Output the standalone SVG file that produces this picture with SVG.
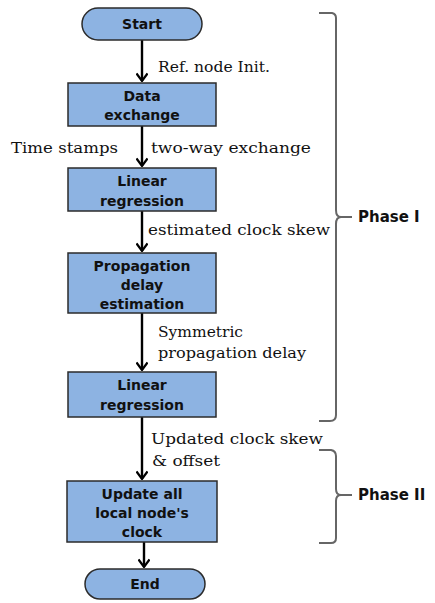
<svg xmlns="http://www.w3.org/2000/svg" width="435" height="603" viewBox="0 0 435 603">
<defs>
<marker id="arrd" markerWidth="12" markerHeight="10" refX="6" refY="9" orient="0" markerUnits="userSpaceOnUse" viewBox="0 0 12 10">
<path d="M0.5,1.5 L6,9 L11.5,1.5" fill="none" stroke="#000" stroke-width="2.2"/>
</marker>
</defs>
<style>
.box{fill:#8db3e2;stroke:#2b2b2b;stroke-width:1.5}
.nt{font-family:"Comic Sans MS","DejaVu Sans",sans-serif;font-weight:bold;font-size:14px;fill:#111;text-anchor:middle}
.el{font-family:"DejaVu Serif","Liberation Serif",serif;font-size:15px;fill:#111}
.ln{fill:none;stroke:#000;stroke-width:2.4}
.br{fill:none;stroke:#666;stroke-width:2}
.ph{font-family:"Comic Sans MS","DejaVu Sans",sans-serif;font-weight:bold;font-size:15px;fill:#111}
</style>
<rect width="435" height="603" fill="#fff"/>
<g id="connectors">
<line class="ln" x1="142" y1="40" x2="142" y2="81" marker-end="url(#arrd)"/>
<line class="ln" x1="142" y1="126" x2="142" y2="166" marker-end="url(#arrd)"/>
<line class="ln" x1="142" y1="211" x2="142" y2="251" marker-end="url(#arrd)"/>
<line class="ln" x1="142" y1="313" x2="142" y2="370" marker-end="url(#arrd)"/>
<line class="ln" x1="142" y1="417" x2="142" y2="479" marker-end="url(#arrd)"/>
<line class="ln" x1="144" y1="542" x2="144" y2="567" marker-end="url(#arrd)"/>
</g>
<g id="labels">
<text class="el" x="158" y="72" textLength="112" lengthAdjust="spacingAndGlyphs">Ref.  node Init.</text>
<text class="el" x="11" y="153" textLength="107" lengthAdjust="spacingAndGlyphs">Time  stamps</text>
<text class="el" x="151" y="153" textLength="160" lengthAdjust="spacingAndGlyphs">two-way  exchange</text>
<text class="el" x="148" y="235" textLength="182" lengthAdjust="spacingAndGlyphs">estimated clock skew</text>
<text class="el" x="158" y="337" textLength="85" lengthAdjust="spacingAndGlyphs">Symmetric</text>
<text class="el" x="158" y="358" textLength="148" lengthAdjust="spacingAndGlyphs">propagation  delay</text>
<text class="el" x="151" y="444" textLength="172" lengthAdjust="spacingAndGlyphs">Updated clock skew</text>
<text class="el" x="152" y="466" textLength="68" lengthAdjust="spacingAndGlyphs">&amp; offset</text>
</g>
<g id="start">
<rect class="box" x="82" y="8" width="120" height="32" rx="16"/>
<text class="nt" x="142" y="29">Start</text>
</g>
<g id="data-exchange">
<rect class="box" x="68" y="83" width="148" height="43"/>
<text class="nt" x="142" y="101">Data</text>
<text class="nt" x="142" y="120">exchange</text>
</g>
<g id="linear-regression-1">
<rect class="box" x="68" y="168" width="148" height="43"/>
<text class="nt" x="142" y="186">Linear</text>
<text class="nt" x="142" y="206">regression</text>
</g>
<g id="propagation">
<rect class="box" x="68" y="253" width="148" height="60"/>
<text class="nt" x="142" y="271">Propagation</text>
<text class="nt" x="142" y="290">delay</text>
<text class="nt" x="142" y="309">estimation</text>
</g>
<g id="linear-regression-2">
<rect class="box" x="68" y="372" width="148" height="45"/>
<text class="nt" x="142" y="390">Linear</text>
<text class="nt" x="142" y="410">regression</text>
</g>
<g id="update">
<rect class="box" x="67" y="481" width="150" height="61"/>
<text class="nt" x="142" y="499">Update  all</text>
<text class="nt" x="142" y="518">local node's</text>
<text class="nt" x="142" y="537">clock</text>
</g>
<g id="end">
<rect class="box" x="85" y="569" width="120" height="30" rx="15"/>
<text class="nt" x="145" y="589">End</text>
</g>
<g id="phase1">
<path class="br" d="M319,13 L332,13 Q336,14 336,18 L336,210 Q336,217 341,217 L352,217 M341,217 Q336,217 336,224 L336,415 Q336,421 330,421 L319,421"/>
<text class="ph" x="358" y="222">Phase I</text>
</g>
<g id="phase2">
<path class="br" d="M319,450 L331,450 Q336,451 336,456 L336,489 Q336,495 341,495 L352,495 M341,495 Q336,495 336,501 L336,538 Q336,543 331,543 L319,543"/>
<text class="ph" x="358" y="500">Phase II</text>
</g>
</svg>
